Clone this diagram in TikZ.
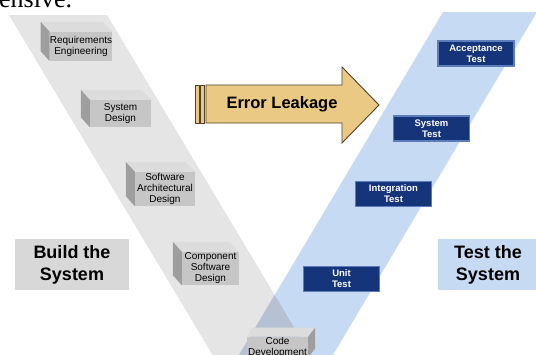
\documentclass[tikz,border=0pt]{standalone}
\usepackage{fontspec}
\setmainfont{Liberation Sans}
\newfontfamily\pageserif{Liberation Serif}
\usetikzlibrary{calc}

\definecolor{bandgray}{RGB}{229,229,229}
\definecolor{bandblue}{RGB}{199,218,243}
\definecolor{bandmix}{RGB}{182,194,212}
\definecolor{facefront}{RGB}{198,198,198}
\definecolor{facetop}{RGB}{220,220,220}
\definecolor{faceside}{RGB}{158,158,158}
\definecolor{testnavy}{RGB}{22,52,122}
\definecolor{testrim}{RGB}{92,124,186}
\definecolor{leakfill}{RGB}{233,201,132}
\definecolor{leakline}{RGB}{78,66,46}

% gray design box, depth to the upper left
\newcommand{\stagebox}[5]{%
  \node[stage, minimum width=#3, minimum height=#4] (#1) at #2 {#5};
  \fill[facetop] (#1.north west) -- ++(-9,-10) -- ($(#1.north east)+(-10,-10)$) -- (#1.north east) -- cycle;
  \fill[faceside] (#1.north west) -- ++(-9,-10) -- ($(#1.south west)+(-9,-10)$) -- (#1.south west) -- cycle;
}

\begin{document}
\begin{tikzpicture}[x=1pt,y=-1pt,
  stage/.style={fill=facefront, inner sep=0pt, align=center, font=\fontsize{10}{11}\selectfont},
  testbox/.style={fill=testnavy, draw=testrim, line width=1.2pt, minimum width=76, minimum height=25,
    inner sep=0pt, align=center, text=white, font=\fontsize{9.5}{11}\selectfont\bfseries},
  sidelabel/.style={inner sep=0pt, align=center, font=\fontsize{18}{22}\selectfont\bfseries},
  leak/.style={fill=leakfill, draw=leakline, line width=0.9pt}]
\clip (0,0) rectangle (536,354);
\fill[white] (0,0) rectangle (536,354);

% page text above the figure
\node[anchor=base west, inner sep=0pt, font=\pageserif\fontsize{26}{30}\selectfont] (frag) at (-1,7) {ensive.};

% the V
\fill[bandgray] (9,15) -- (107,15) -- (316,364) -- (218,364) -- cycle;
\fill[bandblue] (443,12) -- (537,12) -- (330,360) -- (236,360) -- cycle;
\begin{scope}
\clip (9,15) -- (107,15) -- (316,364) -- (218,364) -- cycle;
\fill[bandmix] (443,12) -- (537,12) -- (330,360) -- (236,360) -- cycle;
\end{scope}

% build side
\stagebox{req}{(81,46.5)}{62}{29}{Requirements\\Engineering}
\stagebox{sysd}{(120.5,113.5)}{61}{27}{System\\Design}
\stagebox{arch}{(165,189)}{60}{34}{Software\\Architectural\\Design}
\stagebox{comp}{(210.5,268.5)}{57}{33}{Component\\Software\\Design}

% code box, depth to the upper right
\node[stage, minimum width=61, minimum height=20] (code) at (277.5,347) {Code\\Development};
\fill[facetop] (code.north west) -- ++(6,-9) -- ($(code.north east)+(7,-9)$) -- (code.north east) -- cycle;
\fill[faceside] (code.north east) -- ++(7,-9) -- ($(code.south east)+(7,-9)$) -- (code.south east) -- cycle;

% test side
\node[testbox] (acc) at (476,53.5) {Acceptance\\Test};
\node[testbox] (syst) at (431.5,128.5) {System\\Test};
\node[testbox] (integ) at (393.5,194) {Integration\\Test};
\node[testbox] (unit) at (341.5,279) {Unit\\Test};

\node[sidelabel, fill=facetop!98!black, minimum width=114, minimum height=51] (build) at (72,264.5) {Build the\\System};
\node[sidelabel, fill=bandblue, minimum width=100, minimum height=51] (testsys) at (488,264.5) {Test the\\System};

% error leakage arrow
\draw[leak] (195,85) rectangle (199,123);
\draw[leak] (200,85) rectangle (204,123);
\draw[leak] (206,85) -- (342,85) -- (342,67) -- (379,105) -- (342,143) -- (342,123) -- (206,123) -- cycle;
\node[font=\fontsize{16.5}{20}\selectfont\bfseries, inner sep=0pt] (leaktext) at (282,104) {Error Leakage};
\end{tikzpicture}
\end{document}
